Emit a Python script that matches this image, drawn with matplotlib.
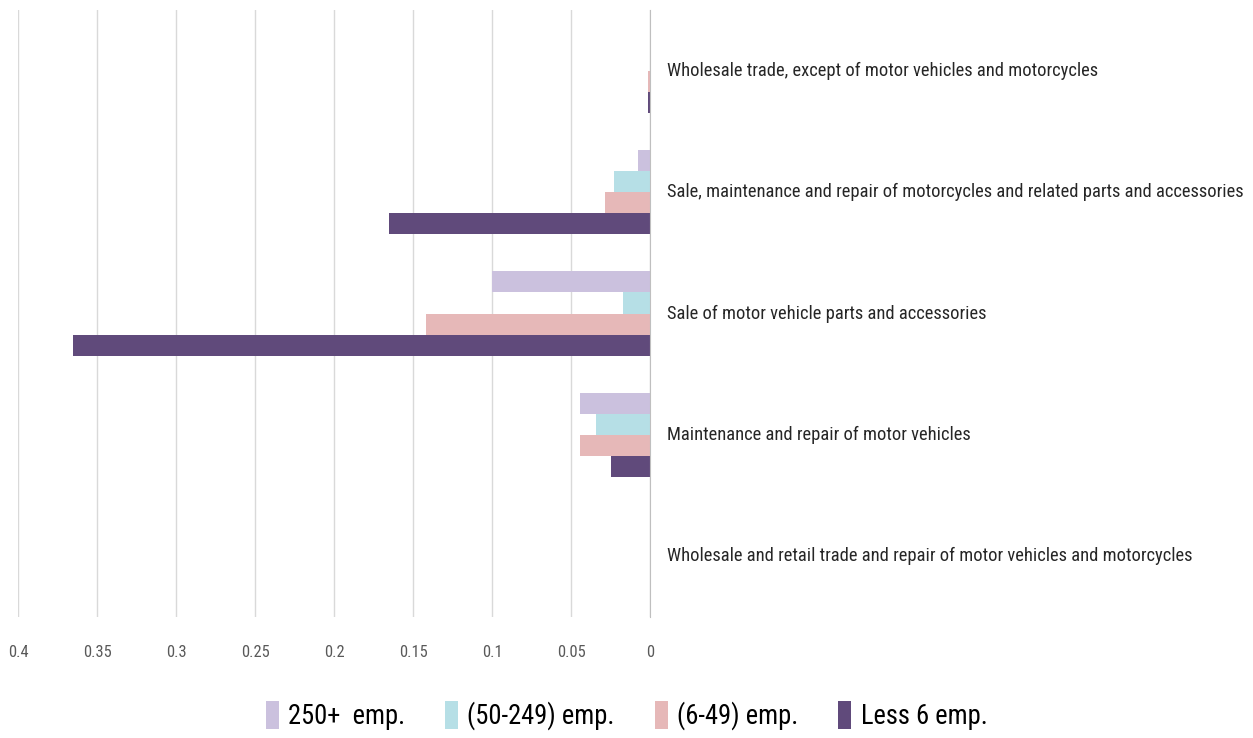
import numpy as np
import matplotlib
matplotlib.use("Agg")
import matplotlib.pyplot as plt
from matplotlib import font_manager

# prefer a narrow face (the original looks like Calibri); fall back to Open Sans
names = {f.name for f in font_manager.fontManager.ttflist}
narrow = [f for f in font_manager.fontManager.ttflist
          if f.stretch in ("condensed", "semi-condensed", "extra-condensed") or "Narrow" in f.name or "Condensed" in f.name]
cands = ["Liberation Sans Narrow", "Roboto Condensed", "Open Sans Condensed"]
FONT = next((c for c in cands if c in names), None)
STRETCH = "normal"
if FONT is None and narrow:
    FONT, STRETCH = narrow[0].name, narrow[0].stretch
if FONT is None:
    FONT = "Open Sans"
plt.rcParams["font.family"] = [FONT, "DejaVu Sans"]
plt.rcParams["font.stretch"] = STRETCH

# categories from bottom to top
categories = [
    "Wholesale and retail trade and repair of motor vehicles and motorcycles",
    "Maintenance and repair of motor vehicles",
    "Sale of motor vehicle parts and accessories",
    "Sale, maintenance and repair of motorcycles and related parts and accessories",
    "Wholesale trade, except of motor vehicles and motorcycles",
]
series_names = ["250+  emp.", "(50-249) emp.", "(6-49) emp.", "Less 6 emp."]
emp_250 = [0.0, 0.044, 0.100, 0.0076, 0.0]
emp_50_249 = [0.0, 0.034, 0.017, 0.023, 0.0]
emp_6_49 = [0.0, 0.044, 0.142, 0.0285, 0.001]
emp_less6 = [0.0, 0.025, 0.365, 0.165, 0.001]
series = [emp_250, emp_50_249, emp_6_49, emp_less6]
colors = ["#cbc1de", "#b6dfe6", "#e6b8b8", "#604a7b"]
xticks = [0.4, 0.35, 0.3, 0.25, 0.2, 0.15, 0.1, 0.05, 0]
xtick_labels = ["0.4", "0.35", "0.3", "0.25", "0.2", "0.15", "0.1", "0.05", "0"]

fig = plt.figure(figsize=(12.53, 7.38), dpi=100)
ax = fig.add_axes([18 / 1253, 1 - 617 / 738, (650 - 18) / 1253, (617 - 10) / 738])

# size the text so the top label is ~434 px wide, as in the original
r = fig.canvas.get_renderer()
probe = fig.text(0, 0, categories[-1], fontsize=14)
w = probe.get_window_extent(r).width
probe.remove()
fs = min(15.5, 14 * 434 / w)
scale = fs / 14

y = np.arange(len(categories))
h = 0.173
offsets = [1.5 * h, 0.5 * h, -0.5 * h, -1.5 * h]
for vals, off, col, name in zip(series, offsets, colors, series_names):
    ax.barh(y + off, vals, height=h, color=col, label=name, zorder=3)

ax.set_xlim(0.4, 0)
ax.set_ylim(-0.5, len(categories) - 0.5)
ax.set_xticks(xticks)
ax.set_xticklabels(xtick_labels, fontsize=12.5 * scale, color="#595959")
ax.tick_params(axis="x", length=0, pad=20)
ax.set_yticks([])
ax.grid(axis="x", color="#d9d9d9", lw=1.0, zorder=0)
for s in ["top", "bottom", "left"]:
    ax.spines[s].set_visible(False)
ax.spines["right"].set_color("#bfbfbf")
ax.spines["right"].set_zorder(4)

for yi, cat in zip(y, categories):
    ax.text(-0.011, yi, cat, ha="left", va="center", fontsize=fs, color="#262626")

fig.legend(loc="lower center", bbox_to_anchor=(0.5, -0.022), ncol=4, frameon=False,
           fontsize=20 * scale, handlelength=0.5, handleheight=1.2, handletextpad=0.35,
           columnspacing=1.5)

fig.savefig("out.png", dpi=100)
